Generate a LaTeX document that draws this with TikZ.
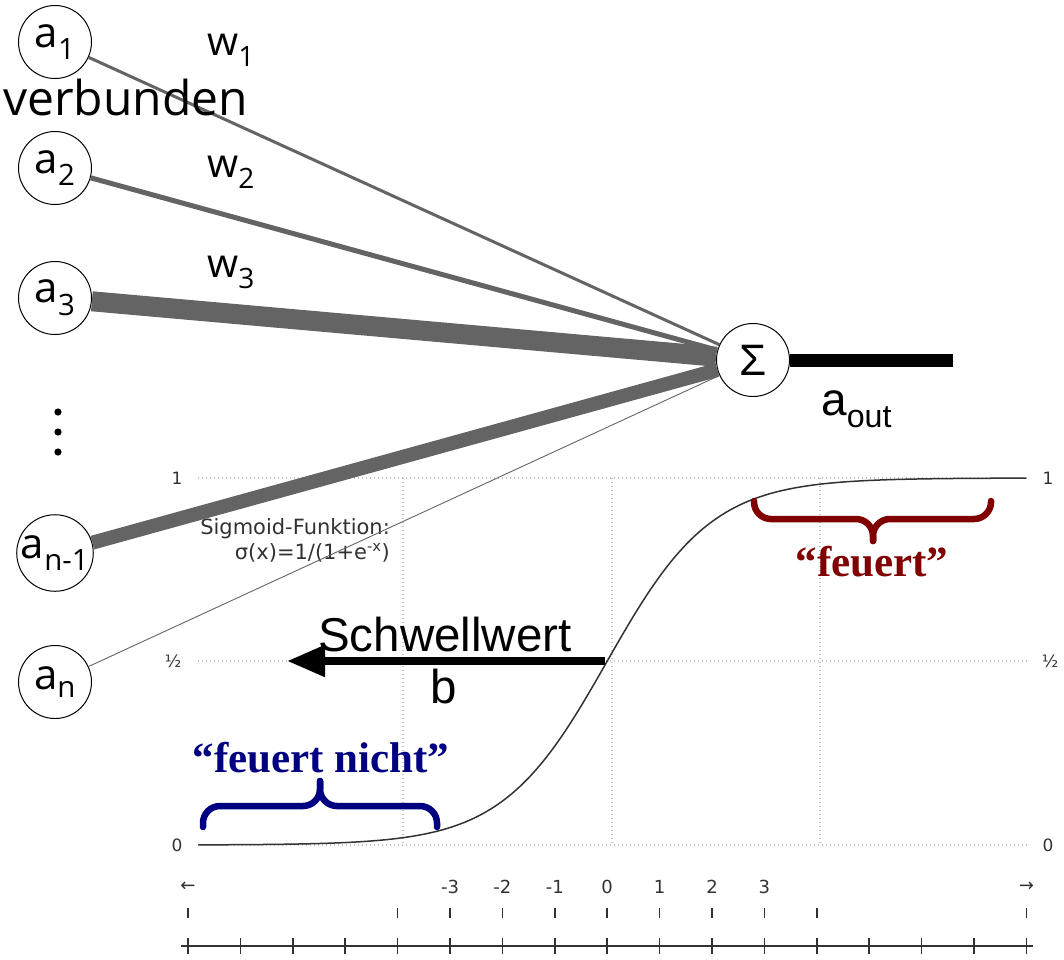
\documentclass[tikz,border=0pt]{standalone}
\usepackage{fontspec}
\setmainfont{Open Sans}
\newfontfamily\arialfont{Liberation Sans}
\newfontfamily\timesfont{Liberation Serif}
\newfontfamily\dejafont{DejaVu Sans}
\usetikzlibrary{arrows.meta}

\definecolor{wgray}{RGB}{100,100,100}
\definecolor{gridgray}{RGB}{195,195,195}
\definecolor{axisgray}{RGB}{50,50,50}
\definecolor{nichtblue}{RGB}{0,0,128}
\definecolor{feuertred}{RGB}{128,0,0}

\tikzset{
  curly/.style={line width=6.5pt,line cap=round,rounded corners=17pt},
  axislabel/.style={font=\dejafont\fontsize{17}{17}\selectfont,text=axisgray},
  firelabel/.style={font=\timesfont\bfseries\fontsize{43}{43}\selectfont,anchor=base,inner sep=0pt},
}

\begin{document}
\begin{tikzpicture}[x=1pt,y=-1pt]
  \useasboundingbox (0,0) rectangle (1064,959);

  % grid of the sigmoid chart
  \begin{scope}[gridgray,line width=1.3pt,dash pattern=on 1.3pt off 2.7pt]
    \draw (198,478) -- (1030,478);
    \draw (198,661) -- (1030,661);
    \draw (198,845) -- (1030,845);
    \draw (403,478) -- (403,845);
    \draw (612,478) -- (612,845);
    \draw (820,478) -- (820,845);
  \end{scope}

  \draw[axisgray,line width=1.5pt] plot[domain=-7.8:8,samples=120,smooth]
    ({607+52.4*\x},{845-367/(1+exp(-(\x)))});

  \node[axislabel] (one)   at (177,478)  {1};
  \node[axislabel] (half)  at (173,661)  {½};
  \node[axislabel] (zero)  at (177,845)  {0};
  \node[axislabel] (oneR)  at (1048,478) {1};
  \node[axislabel] (halfR) at (1050,661) {½};
  \node[axislabel] (zeroR) at (1048,845) {0};

  % x axis
  \draw[axisgray,line width=1.8pt] (181,946) -- (1033,946);
  \foreach \k in {0,...,16}
    \draw[axisgray,line width=1.6pt] ({188+52.4*\k},938) -- ({188+52.4*\k},954);
  \foreach \k in {0,4,5,...,12,16}
    \draw[axisgray,line width=1.5pt] ({188+52.4*\k},908) -- ({188+52.4*\k},918);
  \foreach \k/\t in {0/←,5/-3,6/-2,7/-1,8/0,9/1,10/2,11/3,16/→}
    \node[axislabel,font=\dejafont\fontsize{18}{18}\selectfont] at ({188+52.4*\k},887) {\t};

  \node[anchor=north east,align=right,inner sep=0pt,text=axisgray,
        font=\dejafont\fontsize{21}{25}\selectfont] (sig) at (390,518)
        {Sigmoid-Funktion:\\σ(x)=1/(1+e\textsuperscript{-x})};

  % threshold
  \coordinate (mid) at (605,661);
  \coordinate (thr) at (287,661);
  \draw[line width=8pt,-{Triangle[length=38pt,width=30pt]}] (mid) -- (thr);
  \node[anchor=base,inner sep=0pt,font=\arialfont\fontsize{47.5}{47.5}\selectfont] (schwell) at (445,651) {Schwellwert};
  \node[anchor=base,inner sep=0pt,font=\arialfont\fontsize{47.5}{47.5}\selectfont] (b) at (444,703) {b};

  % fires / does not fire
  \draw[curly,nichtblue] (203,827) |- (320,806) -- (320,781);
  \draw[curly,nichtblue] (437,827) |- (320,806) -- (320,781);
  \draw[curly,feuertred] (754,501) |- (873,519) -- (873,541);
  \draw[curly,feuertred] (991,501) |- (873,519) -- (873,541);
  \node[firelabel,text=nichtblue] (nicht)  at (321,772) {“feuert nicht”};
  \node[firelabel,text=feuertred] (feuert) at (872,576) {“feuert”};

  % neuron
  \begin{scope}[every node/.style={circle,draw,fill=white,line width=1pt,minimum size=73pt,
                                   inner sep=0pt,font=\fontsize{42}{42}\selectfont}]
    \node (1) at (55,42)  {a\textsubscript{1}};
    \node (2) at (55,168) {a\textsubscript{2}};
    \node (3) at (55,298) {a\textsubscript{3}};
    \node (m) at (55,553) {a\textsubscript{n-1}};
    \node (n) at (55,682) {a\textsubscript{n}};
    \node (s) at (753,360) {\arialfont\fontsize{44}{44}\selectfont Σ};
  \end{scope}

  \begin{scope}[every edge/.style={draw,wgray}]
    \path (1) edge[line width=3pt]   (s);
    \path (2) edge[line width=5pt]   (s);
    \path (3) edge[line width=20pt]  (s);
    \path (m) edge[line width=14pt]  (s);
    \path (n) edge[line width=0.9pt] (s);
  \end{scope}

  \coordinate (out) at (953,360);
  \draw[line width=13pt] (s) -- (out);

  \foreach \y in {412,432,452}
    \fill (58,\y) circle (3.6pt);

  \begin{scope}[every node/.style={anchor=base west,inner sep=0pt,font=\fontsize{40}{40}\selectfont}]
    \node (w1) at (207,55)  {w\textsubscript{1}};
    \node (w2) at (207,177) {w\textsubscript{2}};
    \node (w3) at (207,277) {w\textsubscript{3}};
    \node[font=\fontsize{48}{48}\selectfont] (verb) at (3,115) {verbunden};
    \node[font=\arialfont\fontsize{46}{46}\selectfont] (aout) at (821,415) {a\textsubscript{out}};
  \end{scope}

\end{tikzpicture}
\end{document}
